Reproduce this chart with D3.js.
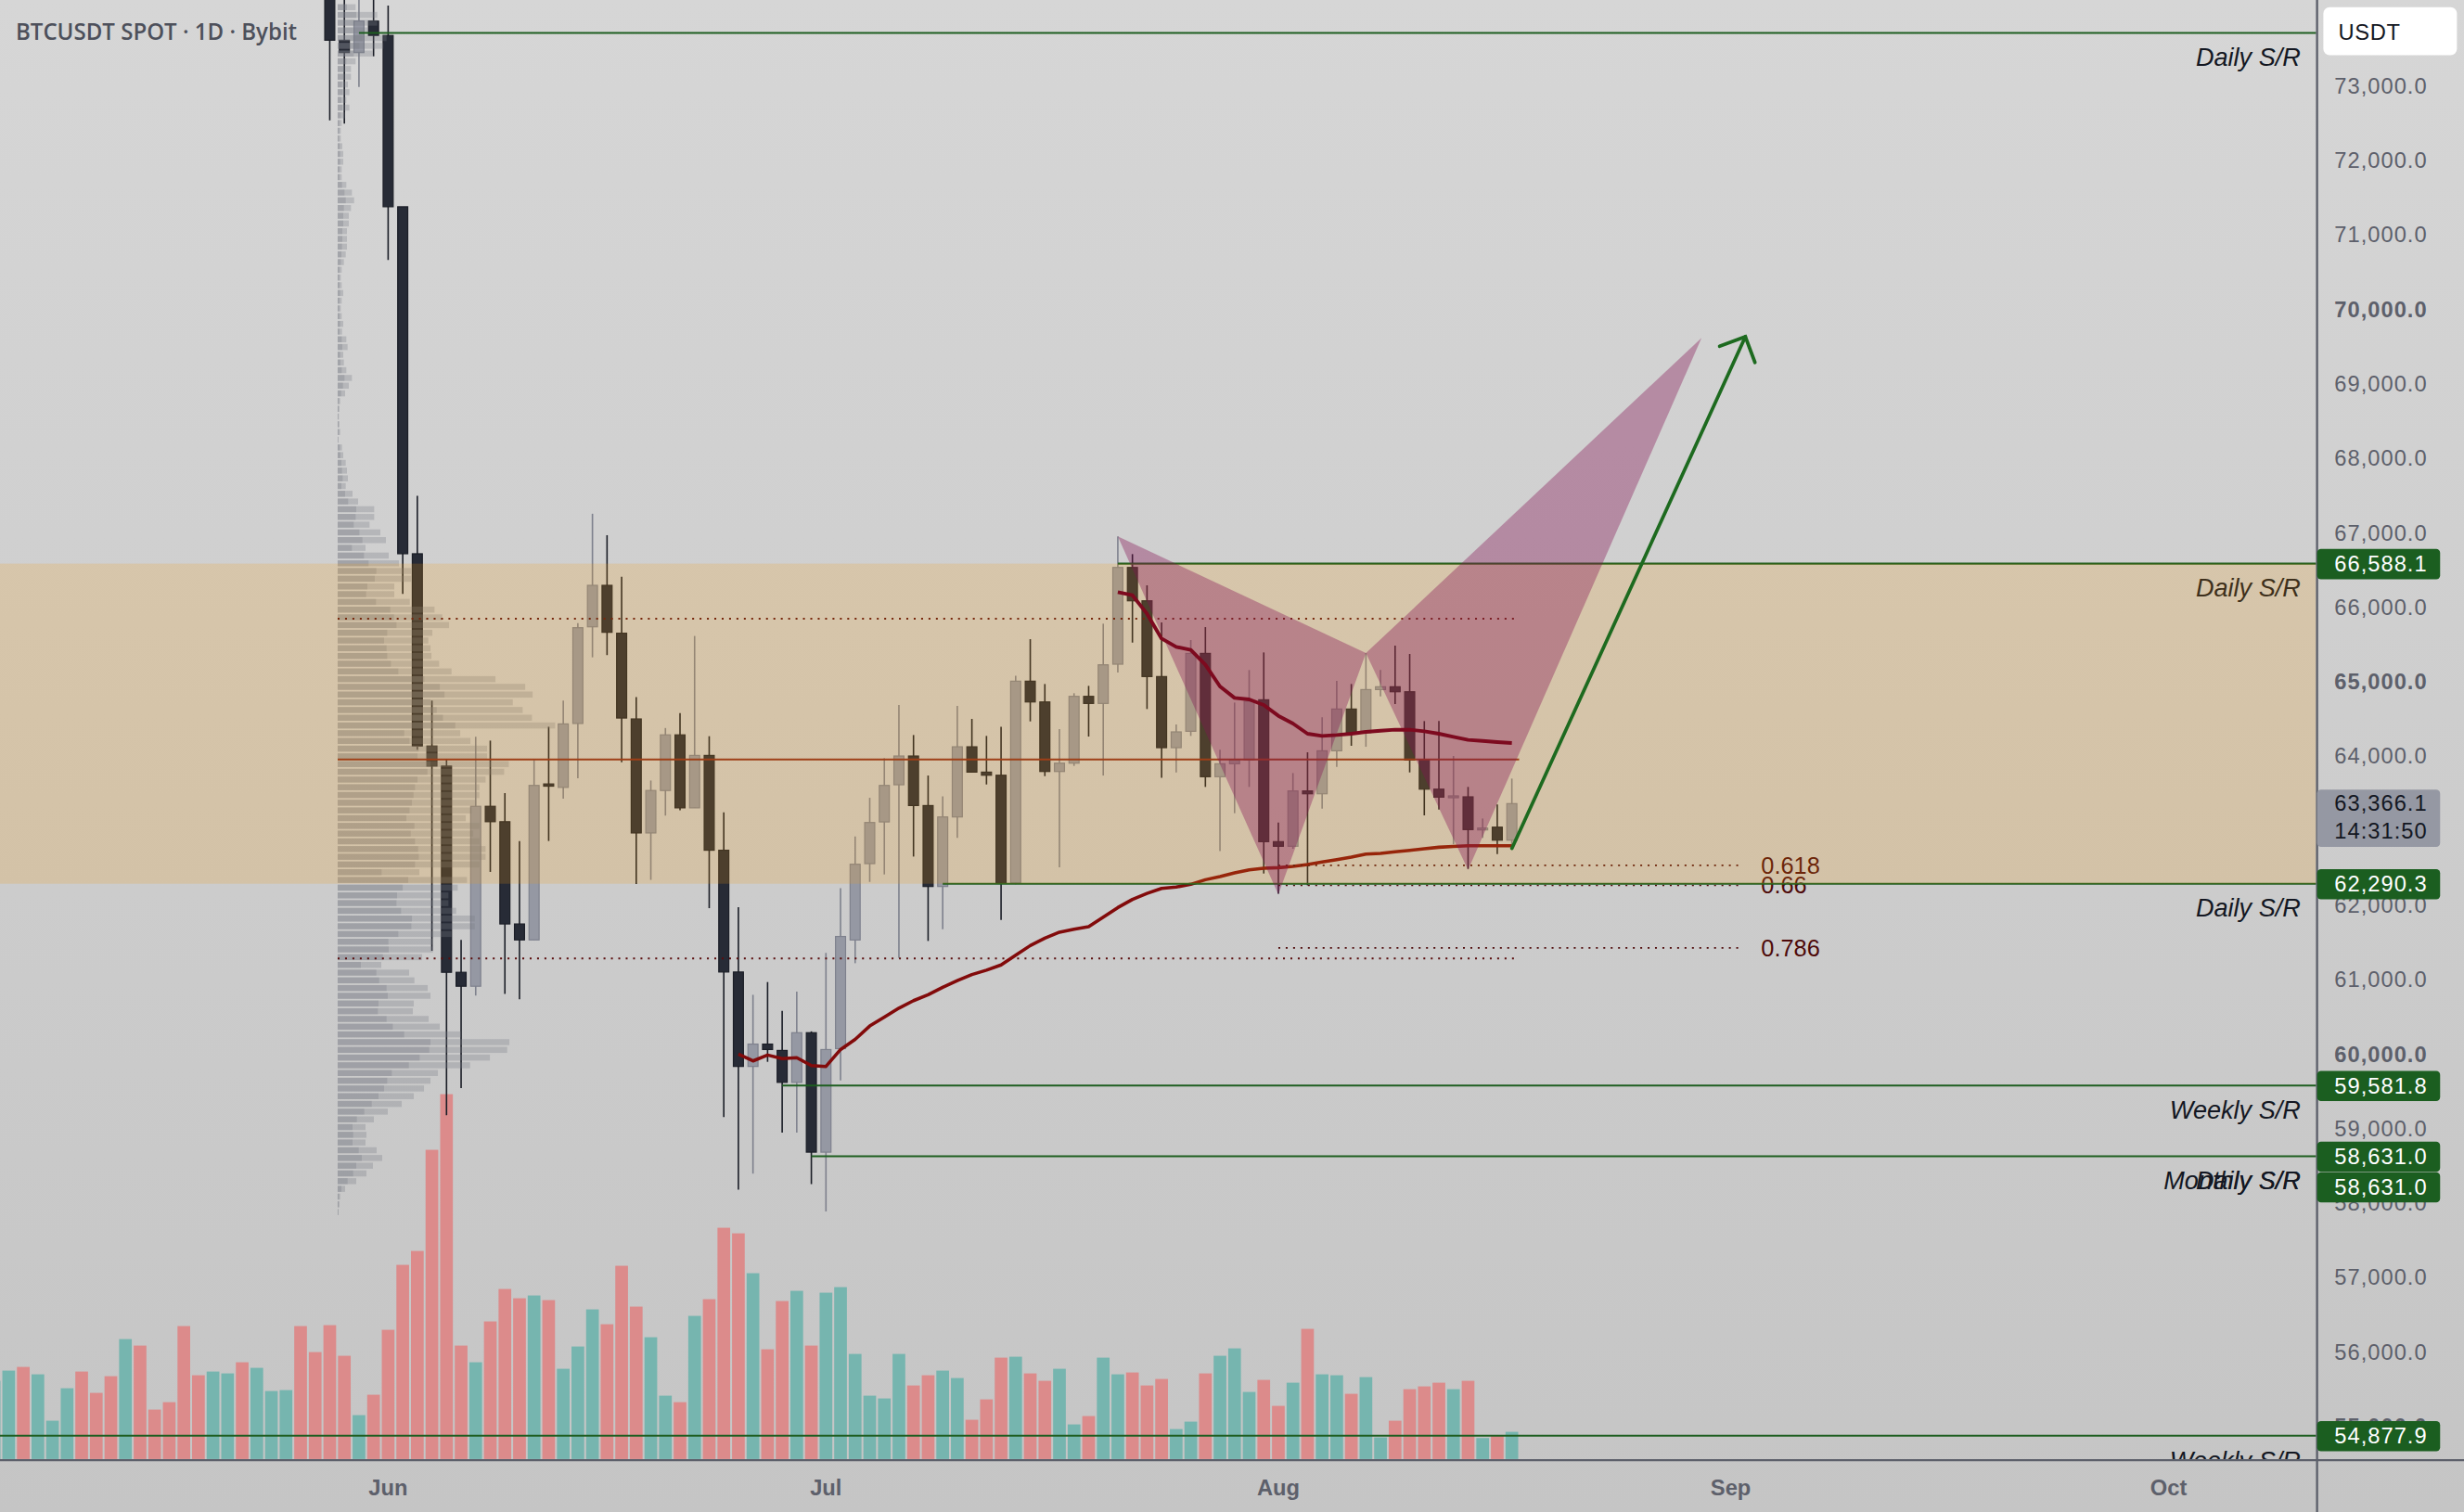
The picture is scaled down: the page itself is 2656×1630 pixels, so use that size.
<!DOCTYPE html>
<html>
<head>
<meta charset="utf-8">
<script src="https://cdn.jsdelivr.net/npm/d3@7"></script>
<style>
  html, body { margin: 0; padding: 0; background: #d0d0d0; overflow: hidden; }
</style>
</head>
<body>
<div id="chart"></div>
<script>
// drawing units: the chart is laid out in a 1568 x 962.3 box and scaled up to 2656 x 1630
const W = 1568, H = 962.3;
const paneW = 1474, paneH = 929.3;

// daily candles, first one on 2024-05-28
const candleStart = "2024-05-28";
const opens = [74900, 73616, 73450, 73873, 73680, 71380, 66721, 64139, 63870, 61101,
  60914, 63330, 63123, 61750, 61536, 63630, 63584, 64442, 65740, 66297,
  65654, 64503, 62972, 63542, 64289, 63309, 64013, 62740, 61105, 59837,
  60137, 60052, 59623, 60290, 58686, 60076, 61535, 62560, 63120, 63619,
  64005, 63340, 62253, 63187, 64129, 63789, 63747, 62302, 65010, 64731,
  63797, 63909, 64806, 64711, 65238, 66537, 66089, 65072, 64117, 64337,
  65383, 63727, 63901, 63951, 64760, 62855, 62793, 63536, 63498, 64075,
  64636, 64316, 64897, 64935, 64868, 63951, 63560, 63453, 63457, 63017,
  63050, 62875];
const highs = [75300, 74300, 74250, 74200, 74082, 71380, 67499, 64751, 63953, 61536,
  64264, 64212, 63507, 62864, 63953, 64398, 64748, 65789, 67258, 66970,
  66413, 64797, 63676, 64381, 64582, 65617, 64271, 63248, 61974, 60799,
  60970, 60584, 60841, 60308, 61362, 62231, 62925, 63444, 63976, 64690,
  64287, 63743, 63465, 64677, 64503, 64275, 64399, 65084, 65574, 64972,
  64366, 64848, 64947, 65782, 66953, 66716, 66297, 65798, 64428, 65562,
  65736, 64088, 64723, 65159, 65396, 63112, 63776, 64055, 64524, 65014,
  64972, 65387, 65159, 65487, 65375, 64474, 64474, 64005, 63590, 63166,
  63353, 63702];
const lows = [72540, 72495, 72990, 73400, 70667, 66182, 64088, 61391, 59182, 59545,
  60790, 62449, 60811, 60739, 61536, 62864, 63431, 63707, 65330, 65360,
  63921, 62286, 62342, 63205, 63278, 63309, 61962, 59158, 58184, 58398,
  59899, 58950, 58950, 58257, 57890, 59648, 61223, 62315, 62415, 61293,
  62655, 61522, 61680, 62905, 63789, 63623, 61804, 62282, 64470, 63735,
  62510, 63872, 64266, 63743, 65126, 65528, 64636, 63714, 63785, 64275,
  63590, 62730, 63237, 63590, 62427, 62157, 62760, 62269, 63299, 63859,
  64142, 64129, 64806, 64702, 63785, 63208, 63287, 62821, 62489, 62905,
  62689, 62801];
const closes = [73616, 73450, 73873, 73680, 71380, 66721, 64139, 63870, 61101, 60914,
  63330, 63123, 61750, 61536, 63610, 63600, 64436, 65728, 66297, 65666,
  64515, 62972, 63542, 64289, 63309, 64013, 62740, 61105, 59837, 60137,
  60064, 59623, 60290, 58686, 60064, 61582, 62552, 63112, 63610, 64005,
  63340, 62253, 63187, 64129, 63789, 63747, 62302, 65010, 64731, 63797,
  63909, 64806, 64711, 65230, 66537, 66089, 65072, 64117, 64329, 65383,
  63727, 63901, 63951, 64740, 62855, 62793, 63536, 63498, 64075, 64636,
  64316, 64897, 64935, 64868, 63951, 63560, 63453, 63470, 63017, 63038,
  62875, 63366];

// volume pane, first bar on 2024-05-05 (1 = up day, 0 = down day)
const volStart = "2024-05-05";
const volumes = [253, 286, 298, 274, 124, 229, 283, 214, 268, 388,
  367, 160, 184, 430, 271, 283, 277, 313, 295, 220,
  223, 430, 346, 433, 334, 142, 208, 418, 628, 673,
  1000, 1180, 367, 313, 445, 550, 520, 529, 514, 292,
  364, 484, 436, 625, 493, 394, 205, 184, 463, 517,
  748, 730, 601, 355, 511, 544, 367, 538, 556, 340,
  205, 196, 340, 238, 271, 286, 262, 127, 193, 328,
  331, 277, 253, 292, 112, 139, 328, 274, 280, 238,
  259, 97, 121, 277, 334, 358, 217, 256, 172, 247,
  421, 274, 271, 211, 265, 70, 124, 226, 235, 247,
  226, 253, 68, 76, 88];
const volUp = [1, 1, 0, 1, 1, 1, 0, 0, 0, 1,
  0, 0, 0, 0, 0, 1, 1, 0, 1, 1,
  1, 0, 0, 0, 0, 1, 0, 0, 0, 0,
  0, 0, 0, 1, 0, 0, 0, 1, 0, 1,
  1, 1, 0, 0, 0, 1, 1, 0, 1, 0,
  0, 0, 1, 0, 0, 1, 0, 1, 1, 1,
  1, 1, 1, 0, 0, 1, 1, 0, 0, 0,
  1, 0, 0, 1, 1, 0, 1, 1, 0, 0,
  0, 1, 1, 0, 1, 1, 1, 0, 0, 1,
  0, 1, 1, 0, 1, 1, 0, 0, 0, 0,
  1, 0, 1, 0, 1];

// moving averages
const fastMAStart = "2024-07-21";
const fastMA = [66205, 66164, 65915, 65582, 65470, 65429, 65230, 64939, 64785, 64765,
  64690, 64545, 64441, 64304, 64275, 64287, 64304, 64329, 64345, 64358,
  64358, 64337, 64304, 64262, 64221, 64208, 64192, 64179];
const slowMAStart = "2024-06-25";
const slowMA = [60002, 59911, 59990, 59941, 59954, 59849, 59837, 60064, 60200, 60380,
  60500, 60620, 60720, 60800, 60900, 60990, 61070, 61130, 61200, 61330,
  61460, 61560, 61640, 61680, 61713, 61840, 61970, 62080, 62160, 62228,
  62245, 62282, 62344, 62386, 62435, 62477, 62498, 62506, 62523, 62547,
  62581, 62614, 62647, 62689, 62697, 62718, 62738, 62759, 62780, 62792,
  62801, 62801, 62801, 62801];

// visible range volume profile, rows of 103.7 from the top price downwards
const profileTop = 74110, profileStep = 103.7;
const profileFrom = "2024-05-28T13:00Z", profileTo = "2024-08-17T12:00Z";
const profileTotal = [58, 128, 128, 98, 158, 148, 113, 58, 43, 43,
  33, 38, 28, 38, 23, 13, 10, 10, 15, 18,
  18, 13, 13, 28, 46, 53, 43, 36, 36, 30,
  30, 30, 26, 20, 13, 10, 13, 18, 13, 10,
  13, 18, 14, 28, 32, 18, 20, 28, 46, 36,
  24, 8, 6, 4, 6, 8, 3, 14, 18, 26,
  30, 33, 26, 48, 66, 118, 118, 103, 138, 156,
  90, 165, 198, 238, 238, 183, 183, 233, 313, 338,
  360, 306, 293, 300, 303, 328, 368, 510, 606, 630,
  566, 598, 628, 703, 396, 429, 483, 483, 553, 538,
  478, 458, 458, 448, 433, 414, 458, 438, 458, 478,
  478, 458, 264, 418, 388, 358, 358, 383, 443, 443,
  368, 306, 308, 273, 141, 231, 248, 291, 300, 246,
  243, 294, 330, 398, 555, 548, 492, 428, 324, 300,
  279, 246, 207, 162, 117, 90, 93, 90, 126, 144,
  114, 93, 60, 24, 8, 6, 3];
const profileUp = [30, 60, 55, 50, 80, 70, 52, 28, 20, 18,
  14, 16, 12, 15, 10, 6, 5, 4, 7, 8,
  8, 6, 6, 14, 22, 26, 20, 18, 18, 15,
  15, 14, 12, 10, 6, 5, 6, 8, 6, 5,
  6, 8, 6, 13, 15, 8, 9, 13, 22, 17,
  11, 4, 3, 2, 3, 4, 1, 7, 9, 12,
  14, 16, 12, 24, 34, 60, 58, 52, 70, 80,
  46, 85, 100, 125, 120, 96, 92, 124, 170, 182,
  190, 160, 150, 158, 160, 172, 196, 280, 330, 345,
  300, 320, 340, 380, 215, 232, 262, 258, 300, 290,
  258, 250, 245, 240, 232, 222, 248, 236, 250, 260,
  262, 250, 142, 228, 210, 192, 190, 205, 240, 238,
  196, 164, 165, 146, 75, 125, 134, 158, 162, 132,
  130, 158, 178, 215, 300, 296, 265, 230, 175, 160,
  150, 132, 110, 86, 62, 48, 50, 48, 68, 78,
  60, 50, 32, 12, 4, 3, 2];
const profileLevels = [65848, 63958, 61287]; // value area high, point of control, value area low

// horizontal support / resistance levels
const srPrices = [73713, 66588.1, 62290.3, 59581.8, 58631.0, 54877.9];
const srFrom = ["2024-05-30", "2024-07-21", "2024-07-09", "2024-06-28", "2024-06-30", "2024-04-01"];
const srNames = [["Daily S/R"], ["Daily S/R"], ["Daily S/R"], ["Weekly S/R"], ["Monthly S/R", "Daily S/R"], ["Weekly S/R"]];
const srAxisLabels = ["66,588.1", "62,290.3", "59,581.8", "58,631.0", "58,631.0", "54,877.9"];
const srAxisPrices = [66588.1, 62290.3, 59581.8, 58631.0, 58631.0, 54877.9];

// fibonacci retracement levels
const fibLevels = ["0.618", "0.66", "0.786"];
const fibPrices = [62537, 62268, 61428];
const fibFrom = "2024-08-01", fibTo = "2024-09-01T15:00Z";

// harmonic pattern X A B C D
const patternDates = ["2024-07-21", "2024-08-01", "2024-08-07", "2024-08-14", "2024-08-30"];
const patternPrices = [66953, 62145, 65387, 62477, 69620];

// projected move
const arrowDates = ["2024-08-17", "2024-09-02"];
const arrowPrices = [62764, 69635];

const lastPrice = 63366.1, countdown = "14:31:50";
const monthTicks = ["2024-06-01", "2024-07-01", "2024-08-01", "2024-09-01", "2024-10-01"];
const monthNames = ["Jun", "Jul", "Aug", "Sep", "Oct"];
const priceTicks = d3.range(55000, 74000, 1000);

const day = s => new Date(s.length > 10 ? s : s + "T00:00Z");

const x = d3.scaleUtc()
  .domain([day("2024-06-01"), day("2024-10-01")])
  .range([247, 1380]);
const y = d3.scaleLinear()
  .domain([56000, 73000])
  .range([860.6, 54.8]);
const vy = d3.scaleLinear()
  .domain([0, 1000])
  .range([928.6, 731.8]);
const px = d3.scaleLinear()
  .domain([0, 703])
  .range([0, 138.4]);

const step = x(day("2024-06-02")) - x(day("2024-06-01"));

const candles = opens.map((o, i) => ({
  date: d3.utcDay.offset(day(candleStart), i),
  o, h: highs[i], l: lows[i], c: closes[i]
}));
const vols = volumes.map((v, i) => ({ date: d3.utcDay.offset(day(volStart), i), v, up: volUp[i] }));

const svg = d3.select("#chart").append("svg")
  .attr("width", 2656).attr("height", 1630)
  .attr("viewBox", `0 0 ${W} ${H}`)
  .attr("preserveAspectRatio", "none")
  .style("display", "block");

const defs = svg.append("defs");
const grad = defs.append("linearGradient").attr("id", "bg")
  .attr("x1", 0).attr("y1", 0).attr("x2", 0).attr("y2", 1);
grad.append("stop").attr("offset", "0%").attr("stop-color", "#d6d6d6");
grad.append("stop").attr("offset", "100%").attr("stop-color", "#c5c5c5");
defs.append("clipPath").attr("id", "pane")
  .append("rect").attr("width", paneW).attr("height", paneH);

svg.append("rect").attr("width", W).attr("height", H).attr("fill", "url(#bg)");

const pane = svg.append("g").attr("clip-path", "url(#pane)");

// Volume bars.
const bw = step * 0.87;
pane.append("g").selectAll("rect").data(vols).join("rect")
  .attr("x", d => x(d.date) - bw / 2)
  .attr("y", d => vy(d.v))
  .attr("width", bw)
  .attr("height", d => vy(0) - vy(d.v))
  .attr("fill", d => d.up ? "#76b5af" : "#dc8b8b");

// Candles.
const cw = 6.4;
const cg = pane.append("g");
cg.selectAll("line").data(candles).join("line")
  .attr("x1", d => x(d.date)).attr("x2", d => x(d.date))
  .attr("y1", d => y(d.h)).attr("y2", d => y(d.l))
  .attr("stroke", d => d.c >= d.o ? "#7e818d" : "#1b1e27")
  .attr("stroke-width", 0.95);
cg.selectAll("rect").data(candles).join("rect")
  .attr("x", d => x(d.date) - cw / 2)
  .attr("y", d => y(Math.max(d.o, d.c)))
  .attr("width", cw)
  .attr("height", d => Math.max(1.2, Math.abs(y(d.o) - y(d.c))))
  .attr("fill", d => d.c >= d.o ? "#9598a3" : "#272b36")
  .attr("stroke", d => d.c >= d.o ? "#7e818d" : "#1b1e27")
  .attr("stroke-width", 0.7);

// Volume profile (drawn over the candles, semi transparent).
const pLeft = x(day(profileFrom));
const rows = profileTotal.map((t, i) => ({
  hi: profileTop - i * profileStep,
  lo: profileTop - (i + 1) * profileStep,
  t, u: profileUp[i]
}));
const pg = pane.append("g");
pg.selectAll("rect.tot").data(rows).join("rect").attr("class", "tot")
  .attr("x", pLeft)
  .attr("y", d => y(d.hi) + 0.5)
  .attr("width", d => px(d.t))
  .attr("height", d => y(d.lo) - y(d.hi) - 1.1)
  .attr("fill", "#787b86").attr("fill-opacity", 0.3);
pg.selectAll("rect.up").data(rows).join("rect").attr("class", "up")
  .attr("x", pLeft)
  .attr("y", d => y(d.hi) + 0.5)
  .attr("width", d => px(d.u))
  .attr("height", d => y(d.lo) - y(d.hi) - 1.1)
  .attr("fill", "#787b86").attr("fill-opacity", 0.32);

const pRight = x(day(profileTo));
pane.append("g").selectAll("line").data(profileLevels).join("line")
  .attr("x1", pLeft).attr("x2", pRight)
  .attr("y1", d => y(d)).attr("y2", d => y(d))
  .attr("stroke", (d, i) => i === 1 ? "#8b2a1a" : "#5a0d0d")
  .attr("stroke-width", (d, i) => i === 1 ? 1.1 : 1.1)
  .attr("stroke-dasharray", (d, i) => i === 1 ? null : "1.2 3.5");

// Slow moving average (under the zone).
const line = d3.line().x(d => x(d.date)).y(d => y(d.v));
const slowPts = slowMA.map((v, i) => ({ date: d3.utcDay.offset(day(slowMAStart), i), v }));
pane.append("path").datum(slowPts)
  .attr("d", line).attr("fill", "none")
  .attr("stroke", "#820b0b").attr("stroke-width", 2.1)
  .attr("stroke-linejoin", "round");

// Fibonacci levels.
const fg = pane.append("g");
fibPrices.forEach((p, i) => {
  fg.append("line")
    .attr("x1", x(day(fibFrom))).attr("x2", x(day(fibTo)))
    .attr("y1", y(p)).attr("y2", y(p))
    .attr("stroke", "#4e0a0a").attr("stroke-width", 1)
    .attr("stroke-dasharray", "1.2 3.5");
  fg.append("text")
    .attr("x", x(day(fibTo)) + 13.5).attr("y", y(p))
    .attr("dominant-baseline", "central")
    .attr("font-family", "Liberation Sans, Arial, sans-serif")
    .attr("font-size", 15).attr("fill", "#4e0a0a")
    .text(fibLevels[i]);
});

// Support / resistance lines and their names.
const sg = pane.append("g");
srPrices.forEach((p, i) => {
  sg.append("line")
    .attr("x1", Math.max(0, x(day(srFrom[i])))).attr("x2", paneW)
    .attr("y1", y(p)).attr("y2", y(p))
    .attr("stroke", "#1e5e20").attr("stroke-width", 1.2);
  srNames[i].forEach(name => {
    sg.append("text")
      .attr("x", 1464).attr("y", y(p) + 15.5)
      .attr("text-anchor", "end").attr("dominant-baseline", "central")
      .attr("font-family", "Liberation Sans, Arial, sans-serif")
      .attr("font-style", "italic").attr("font-size", 16)
      .attr("fill", "#131722")
      .text(name);
  });
});

// Orange zone between the two daily levels.
pane.append("rect")
  .attr("x", 0).attr("width", paneW)
  .attr("y", y(66588.1)).attr("height", y(62290.3) - y(66588.1))
  .attr("fill", "rgb(245,155,13)").attr("fill-opacity", 0.19);

// Harmonic pattern.
const pts = patternDates.map((d, i) => [x(day(d)), y(patternPrices[i])]);
pane.append("g").selectAll("path").data([[pts[0], pts[1], pts[2]], [pts[2], pts[3], pts[4]]]).join("path")
  .attr("d", d => "M" + d.join("L") + "Z")
  .attr("fill", "rgb(132,19,84)").attr("fill-opacity", 0.37);

// Fast moving average.
const fastPts = fastMA.map((v, i) => ({ date: d3.utcDay.offset(day(fastMAStart), i), v }));
pane.append("path").datum(fastPts)
  .attr("d", line).attr("fill", "none")
  .attr("stroke", "#7d0a1f").attr("stroke-width", 2.3)
  .attr("stroke-linejoin", "round");

// Projection arrow.
const a0 = [x(day(arrowDates[0])), y(arrowPrices[0])];
const a1 = [x(day(arrowDates[1])), y(arrowPrices[1])];
const ang = Math.atan2(a0[1] - a1[1], a0[0] - a1[0]);
const wing = s => [a1[0] + 17.5 * Math.cos(ang + s * Math.PI / 4), a1[1] + 17.5 * Math.sin(ang + s * Math.PI / 4)];
const ag = pane.append("g")
  .attr("stroke", "#1d6a1f").attr("stroke-width", 2.2)
  .attr("stroke-linecap", "round").attr("fill", "none");
ag.append("path").attr("d", `M${a0}L${a1}`);
ag.append("path").attr("d", `M${wing(1)}L${a1}L${wing(-1)}`);

// Title.
pane.append("text")
  .attr("x", 10).attr("y", 19.5)
  .attr("dominant-baseline", "central")
  .attr("font-family", "Open Sans, Liberation Sans, sans-serif")
  .attr("font-weight", 600).attr("font-size", 14.5)
  .attr("fill", "#4d505b")
  .attr("textLength", 179).attr("lengthAdjust", "spacingAndGlyphs")
  .text("BTCUSDT SPOT · 1D · Bybit");

// Axes frame.
svg.append("line").attr("x1", paneW + 0.5).attr("x2", paneW + 0.5)
  .attr("y1", 0).attr("y2", H)
  .attr("stroke", "#5d606b").attr("stroke-width", 1.4);
svg.append("line").attr("x1", 0).attr("x2", W)
  .attr("y1", paneH).attr("y2", paneH)
  .attr("stroke", "#5d606b").attr("stroke-width", 1.4);

// Price axis.
const fmt = d3.format(",.1f");
const axisFont = "Liberation Sans, Arial, sans-serif";
svg.append("g").selectAll("text").data(priceTicks).join("text")
  .attr("x", 1485.5).attr("y", d => y(d))
  .attr("dominant-baseline", "central")
  .attr("font-family", axisFont).attr("font-size", 14)
  .attr("letter-spacing", 0.6)
  .attr("font-weight", d => d % 5000 === 0 ? 700 : 400)
  .attr("fill", "#5d606b")
  .text(d => fmt(d));

// Level labels on the price axis.
const lg = svg.append("g");
srAxisPrices.forEach((p, i) => {
  const cy = y(p) + (i === 4 ? 19.5 : 0) + 0.3;
  lg.append("rect")
    .attr("x", paneW + 0.5).attr("y", cy - 9.6)
    .attr("width", 78.3).attr("height", 19.2).attr("rx", 2.5)
    .attr("fill", "#1b5e20");
  lg.append("text")
    .attr("x", 1485.5).attr("y", cy)
    .attr("dominant-baseline", "central")
    .attr("font-family", axisFont).attr("font-size", 14).attr("letter-spacing", 0.6)
    .attr("fill", "#ffffff")
    .text(srAxisLabels[i]);
});

// Last price and countdown.
lg.append("rect")
  .attr("x", paneW + 0.5).attr("y", 502.6)
  .attr("width", 78.3).attr("height", 36.4).attr("rx", 2.5)
  .attr("fill", "#9598a3");
lg.append("text")
  .attr("x", 1485.5).attr("y", 511.5)
  .attr("dominant-baseline", "central")
  .attr("font-family", axisFont).attr("font-size", 14).attr("letter-spacing", 0.6)
  .attr("fill", "#131722").text(fmt(lastPrice));
lg.append("text")
  .attr("x", 1485.5).attr("y", 529)
  .attr("dominant-baseline", "central")
  .attr("font-family", axisFont).attr("font-size", 14).attr("letter-spacing", 0.6)
  .attr("fill", "#131722").text(countdown);

// Currency badge.
svg.append("rect")
  .attr("x", 1478.5).attr("y", 4.6).attr("width", 85).attr("height", 30.5).attr("rx", 4)
  .attr("fill", "#ffffff");
svg.append("text")
  .attr("x", 1488).attr("y", 20.5)
  .attr("dominant-baseline", "central")
  .attr("font-family", axisFont).attr("font-size", 14).attr("letter-spacing", 0.4)
  .attr("fill", "#131722").text("USDT");

// Time axis.
svg.append("g").selectAll("text").data(monthTicks).join("text")
  .attr("x", d => x(day(d))).attr("y", 947)
  .attr("text-anchor", "middle").attr("dominant-baseline", "central")
  .attr("font-family", axisFont).attr("font-size", 14).attr("font-weight", 700)
  .attr("fill", "#5d606b")
  .text((d, i) => monthNames[i]);
</script>
</body>
</html>
